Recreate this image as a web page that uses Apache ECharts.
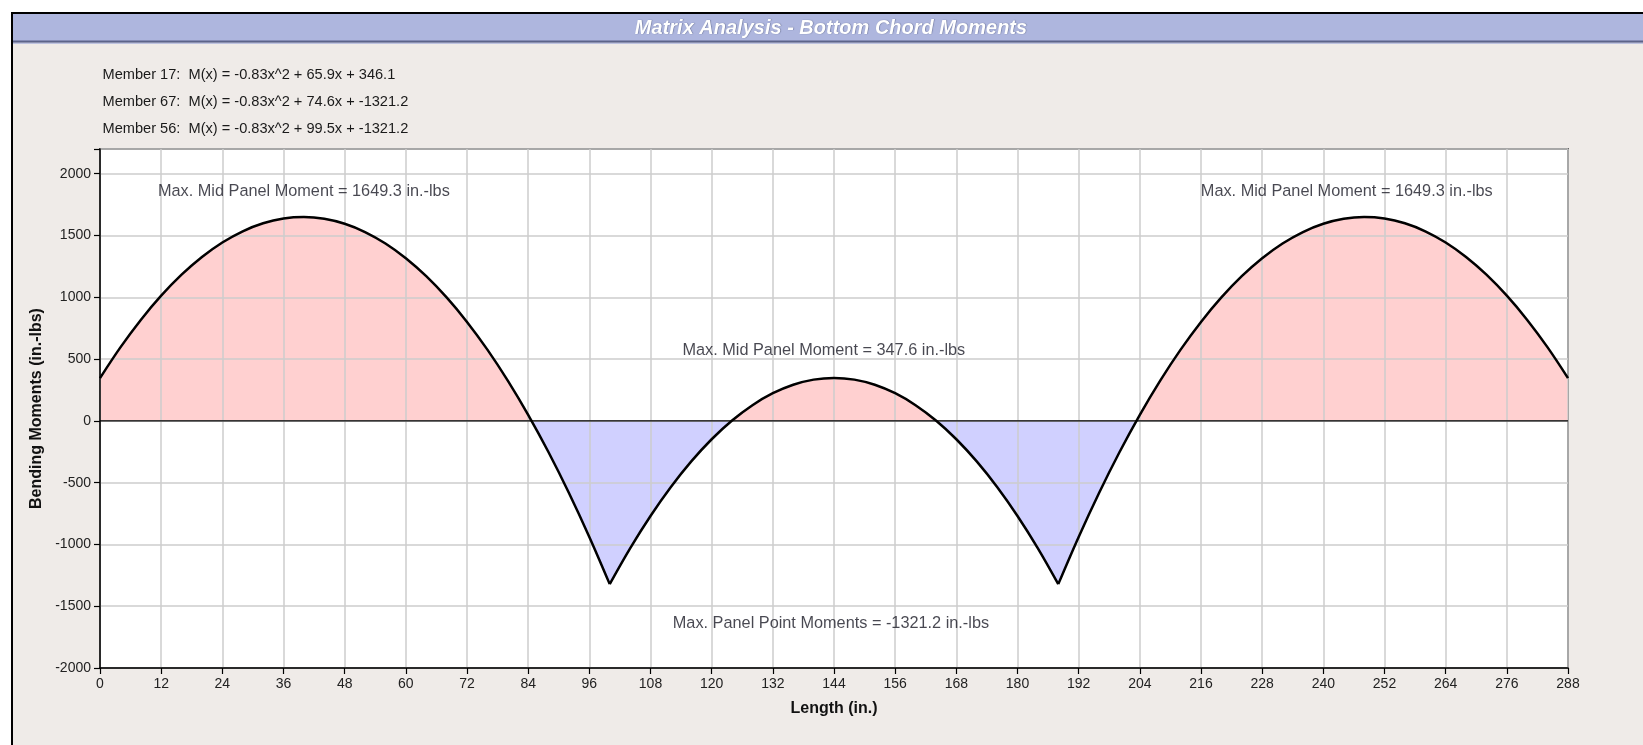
<!DOCTYPE html>
<html>
<head>
<meta charset="utf-8">
<script src="https://cdn.jsdelivr.net/npm/echarts@6/dist/echarts.min.js"></script>
<style>
html,body{margin:0;padding:0;background:#ffffff;}
#chart{width:1643px;height:745px;}
</style>
</head>
<body>
<div id="chart"></div>
<script>
// ---- data ----
var titleText = 'Matrix Analysis - Bottom Chord Moments';
var formulaLines = [
  'Member 17:  M(x) = -0.83x^2 + 65.9x + 346.1',
  'Member 67:  M(x) = -0.83x^2 + 74.6x + -1321.2',
  'Member 56:  M(x) = -0.83x^2 + 99.5x + -1321.2'
];
var panelPoints = [0, 100, 188, 288];
var lengthIn = [0,4,8,12,16,20,24,28,32,36,40,44,48,52,56,60,64,68,72,76,80,84,88,92,96,100,
  104,108,112,116,120,124,128,132,136,140,144,148,152,156,160,164,168,172,176,180,184,188,
  192,196,200,204,208,212,216,220,224,228,232,236,240,244,248,252,256,260,264,268,272,276,280,284,288];
var moments = [346.1,594.6,816.9,1012.9,1182.7,1326.1,1443.3,1534.3,1598.9,1637.3,1649.3,1635.3,1594.9,1528.2,1435.3,1316.1,1170.6,998.8,800.8,576.5,325.9,49.1,-254.0,-583.4,-939.0,-1321.2,
  -1031.6,-769.6,-535.1,-328.2,-148.9,2.8,126.9,223.5,292.4,333.8,347.6,333.8,292.4,223.5,126.9,2.8,-148.9,-328.2,-535.1,-769.6,-1031.6,-1321.2,
  -939.0,-583.4,-254.0,49.1,325.9,576.5,800.8,998.8,1170.6,1316.1,1435.3,1528.2,1594.9,1635.3,1649.3,1637.3,1598.9,1534.3,1443.3,1326.1,1182.7,1012.9,816.9,594.6,346.1];
var noteTexts = [
  'Max. Mid Panel Moment = 1649.3 in.-lbs',
  'Max. Mid Panel Moment = 1649.3 in.-lbs',
  'Max. Mid Panel Moment = 347.6 in.-lbs',
  'Max. Panel Point Moments = -1321.2 in.-lbs'
];
var noteX = [40, 244.6, 142, 143.4];
var noteY = [1855, 1855, 570, -1640];

var FONT = '"Liberation Sans", Arial, sans-serif';
var POS_FILL = '#ffd0d0', NEG_FILL = '#d0d0ff';
var notes = noteX.map(function(x,i){return {value:[x, noteY[i]], name: noteTexts[i]};});
var allPts = lengthIn.map(function(x,i){return [x, moments[i]];});

// split the curve into the three members (between panel points)
var members = [];
for (var m = 0; m < panelPoints.length - 1; m++) {
  var seg = [];
  lengthIn.forEach(function(x, i){
    if (x >= panelPoints[m] && x <= panelPoints[m+1]) seg.push([x, moments[i]]);
  });
  members.push(seg);
}

var chart = echarts.init(document.getElementById('chart'), null, {renderer:'canvas'});
var series = [];
series.push({type:'line', name:'fill', data:allPts, z:2, showSymbol:false, symbol:'none',
  lineStyle:{width:0, opacity:0}, areaStyle:{opacity:1, origin:0, color:POS_FILL}});
members.forEach(function(seg, k){
  series.push({type:'line', name:'member'+k, data:seg, z:5, smooth:0.35, showSymbol:false, symbol:'none',
    lineStyle:{color:'#000000', width:2.5, cap:'butt', join:'miter'}, itemStyle:{color:'#000'}});
});
series.push({type:'line', name:'zero', data:[[0,0],[288,0]], z:4, showSymbol:false, symbol:'none',
  lineStyle:{color:'#000', width:1.3}});
series.push({type:'scatter', name:'notes', data:notes, z:6, symbolSize:0, silent:true,
  label:{show:true, position:'inside', formatter:function(p){return p.name;},
         fontFamily:FONT, fontSize:16.3, color:'#1a1a26'}});

var option = {
  animation: false,
  backgroundColor: '#ffffff',
  graphic: [
    {type:'rect', z:-10, silent:true, shape:{x:12, y:13, width:1700, height:800},
     style:{fill:'#efebe8', stroke:'#000000', lineWidth:2}},
    {type:'rect', z:-9, silent:true, shape:{x:13, y:14, width:1700, height:27},
     style:{fill:'#aeb6de'}},
    {type:'rect', z:-9, silent:true, shape:{x:13, y:40.5, width:1700, height:2.2},
     style:{fill:'#5c6389'}},
    {type:'rect', z:-9, silent:true, shape:{x:13, y:42.7, width:1700, height:1},
     style:{fill:'#aeb6de'}},
    {type:'text', z:10, silent:true, x:831, y:28,
     style:{text:titleText, fill:'#ffffff', font:'italic bold 20px ' + FONT, align:'center', verticalAlign:'middle',
            textShadowColor:'rgba(40,50,90,0.6)', textShadowBlur:1, textShadowOffsetX:0.5, textShadowOffsetY:0.5}},
    {type:'text', z:10, silent:true, x:102.5, y:74.5, style:{text:formulaLines[0], fill:'#1a1a1a', font:'14.6px ' + FONT, verticalAlign:'middle'}},
    {type:'text', z:10, silent:true, x:102.5, y:101.5, style:{text:formulaLines[1], fill:'#1a1a1a', font:'14.6px ' + FONT, verticalAlign:'middle'}},
    {type:'text', z:10, silent:true, x:102.5, y:128.5, style:{text:formulaLines[2], fill:'#1a1a1a', font:'14.6px ' + FONT, verticalAlign:'middle'}}
  ],
  grid: {left:100, right:75, top:149, bottom:77, show:true, backgroundColor:'#ffffff',
         borderColor:'#000000', borderWidth:1.5, containLabel:false},
  xAxis: {
    type:'value', min:0, max:288, interval:12, z:3,
    name:'Length (in.)', nameLocation:'middle', nameGap:33,
    nameTextStyle:{fontFamily:FONT, fontWeight:'bold', fontSize:16, color:'#111'},
    axisLine:{show:true, onZero:false, lineStyle:{color:'#000', width:1.5}},
    axisTick:{show:true, inside:false, length:6, lineStyle:{color:'#000', width:1.2}},
    axisLabel:{margin:9, fontFamily:FONT, fontSize:14, color:'#222'},
    splitLine:{show:true, lineStyle:{color:'#cccccc', width:1.5}}
  },
  yAxis: {
    type:'value', min:-2000, max:2200, interval:500, z:3,
    name:'Bending Moments (in.-lbs)', nameLocation:'middle', nameGap:50,
    nameTextStyle:{fontFamily:FONT, fontWeight:'bold', fontSize:16, color:'#111'},
    axisLine:{show:true, onZero:false, lineStyle:{color:'#000', width:1.5}},
    axisTick:{show:true, inside:false, length:6, lineStyle:{color:'#000', width:1.2}},
    axisLabel:{margin:9, fontFamily:FONT, fontSize:14, color:'#222',
      formatter:function(v){ return v > 2000 ? '' : String(v); }},
    splitLine:{show:true, lineStyle:{color:'#cccccc', width:1.5}}
  },
  series: series
};
chart.setOption(option);

// split area colour at zero using the axis scale
var yTop = chart.convertToPixel({yAxisIndex:0}, 2200);
var yBot = chart.convertToPixel({yAxisIndex:0}, -2000);
var yZero = chart.convertToPixel({yAxisIndex:0}, 0);
var f = (yZero - yTop) / (yBot - yTop);
chart.setOption({series:[{name:'fill', areaStyle:{color:
  new echarts.graphic.LinearGradient(0, yTop, 0, yBot, [
    {offset:0, color:POS_FILL}, {offset:f, color:POS_FILL},
    {offset:f, color:NEG_FILL}, {offset:1, color:NEG_FILL}], true)}}]});
</script>
</body>
</html>
